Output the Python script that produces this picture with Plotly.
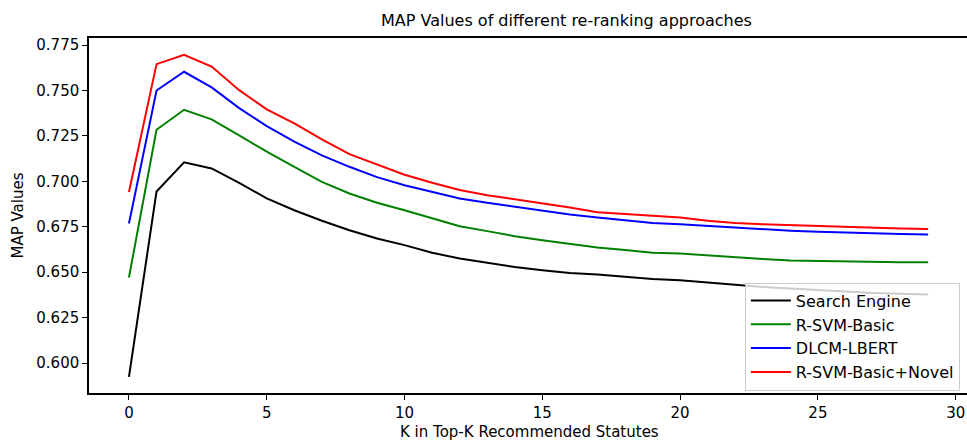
import plotly.graph_objects as go

k_values = list(range(30))

search_engine = [0.5924, 0.6944, 0.7105, 0.7071, 0.6992, 0.6906, 0.6841, 0.6783, 0.6731, 0.6685,
                 0.6649, 0.6607, 0.6575, 0.6551, 0.6529, 0.6511, 0.6496, 0.6487, 0.6474, 0.6463,
                 0.6456, 0.6443, 0.6430, 0.6419, 0.6410, 0.6401, 0.6393, 0.6386, 0.6381, 0.6377]
r_svm_basic = [0.6471, 0.7284, 0.7394, 0.7341, 0.7253, 0.7163, 0.7080, 0.6997, 0.6933, 0.6882,
               0.6841, 0.6796, 0.6753, 0.6726, 0.6698, 0.6676, 0.6654, 0.6636, 0.6622, 0.6607,
               0.6603, 0.6592, 0.6581, 0.6572, 0.6564, 0.6561, 0.6559, 0.6557, 0.6555, 0.6554]
dlcm_lbert = [0.6768, 0.7500, 0.7603, 0.7517, 0.7403, 0.7304, 0.7218, 0.7143, 0.7080, 0.7023,
              0.6979, 0.6941, 0.6906, 0.6882, 0.6860, 0.6836, 0.6818, 0.6801, 0.6786, 0.6771,
              0.6764, 0.6755, 0.6744, 0.6735, 0.6728, 0.6722, 0.6717, 0.6713, 0.6710, 0.6708]
r_svm_novel = [0.6941, 0.7645, 0.7697, 0.7632, 0.7502, 0.7396, 0.7319, 0.7231, 0.7150, 0.7093,
               0.7036, 0.6992, 0.6952, 0.6924, 0.6902, 0.6878, 0.6856, 0.6830, 0.6819, 0.6808,
               0.6801, 0.6783, 0.6771, 0.6764, 0.6759, 0.6753, 0.6749, 0.6746, 0.6741, 0.6738]

series_names = ["Search Engine", "R-SVM-Basic", "DLCM-LBERT", "R-SVM-Basic+Novel"]
series_values = [search_engine, r_svm_basic, dlcm_lbert, r_svm_novel]
series_colors = ["#000000", "#008000", "#0000ff", "#ff0000"]

x_ticks = [0, 5, 10, 15, 20, 25, 30]
y_ticks = [0.600, 0.625, 0.650, 0.675, 0.700, 0.725, 0.750, 0.775]
y_tick_labels = ["0.600", "0.625", "0.650", "0.675", "0.700", "0.725", "0.750", "0.775"]

FONT = "DejaVu Sans"

fig = go.Figure()
for name, vals, col in zip(series_names, series_values, series_colors):
    fig.add_trace(go.Scatter(x=k_values, y=vals, mode="lines", name=name,
                             legendgroup=name,
                             line=dict(color=col, width=2)))

fig.update_layout(
    width=967, height=440,
    margin=dict(l=89, r=0, t=38, b=47),
    paper_bgcolor="white", plot_bgcolor="white",
    font=dict(family=FONT, size=15, color="black"),
    showlegend=True,
    legend=dict(x=0.747, y=0.311, xanchor="left", yanchor="top",
                bgcolor="rgba(255,255,255,0.8)", bordercolor="#cccccc", borderwidth=1,
                font=dict(family=FONT, size=16, color="black"),
                itemwidth=40,
                tracegroupgap=2, traceorder="normal"),
    annotations=[
        dict(text="MAP Values of different re-ranking approaches", xref="paper", yref="paper",
             x=0.544, y=1.0, xanchor="center", yanchor="bottom", yshift=6, showarrow=False,
             font=dict(family=FONT, size=16, color="black")),
        dict(text="K in Top-K Recommended Statutes", xref="paper", yref="paper",
             x=0.502, y=0, xanchor="center", yanchor="middle", yshift=-39, showarrow=False,
             font=dict(family=FONT, size=15, color="black")),
        dict(text="MAP Values", xref="paper", yref="paper", textangle=-90,
             x=0, y=0.5, xanchor="center", yanchor="middle", xshift=-72, showarrow=False,
             font=dict(family=FONT, size=15, color="black")),
    ],
)
fig.update_xaxes(range=[-1.45, 30.41], tickvals=x_ticks, ticktext=[str(v) for v in x_ticks],
                 showgrid=False, zeroline=False, showline=True, linecolor="black", linewidth=1.5,
                 mirror=True, ticks="outside", ticklen=5, tickwidth=1.2, tickcolor="black",
                 tickfont=dict(family=FONT, size=15, color="black"))
fig.update_yaxes(range=[0.5835, 0.7789], tickvals=y_ticks, ticktext=y_tick_labels,
                 showgrid=False, zeroline=False, showline=True, linecolor="black", linewidth=1.5,
                 mirror=False, ticks="outside", ticklen=5, tickwidth=1.2, tickcolor="black",
                 tickfont=dict(family=FONT, size=15, color="black"))

fig.write_html("out.html", config={"displayModeBar": False},
               post_script="document.body.style.margin='0';document.body.style.overflow='hidden';")
